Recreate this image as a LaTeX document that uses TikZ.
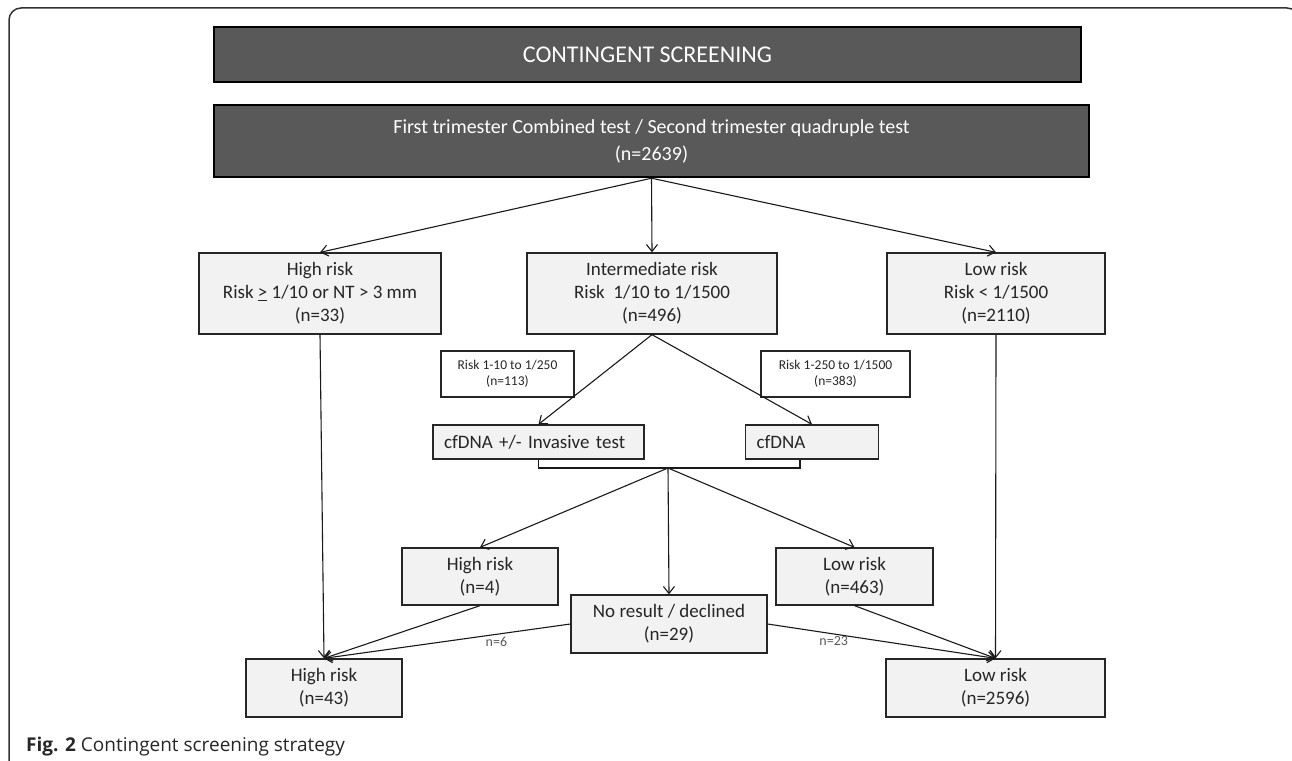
\documentclass[tikz,border=0pt]{standalone}
\usepackage{fontspec}
\setmainfont{Carlito}
\newfontfamily\captionfont{Open Sans}
\usepackage{tikz}
\usetikzlibrary{positioning,arrows.meta}
\definecolor{bannergrey}{HTML}{595959}
\definecolor{boxgrey}{HTML}{F2F2F2}
\definecolor{framegrey}{HTML}{333333}

\begin{document}
\begin{tikzpicture}[x=1pt,y=-1pt,
		banner/.style={draw=black,line width=2.4pt,fill=bannergrey,text=white,inner sep=0pt,align=center},
		riskbox/.style={draw=black!85,line width=1.3pt,fill=boxgrey,inner sep=0pt,align=center,text=black!85,font=\fontsize{19}{23}\selectfont},
		smallbox/.style={draw=black!85,line width=1.3pt,fill=white,inner sep=0pt,align=center,text=black!85,font=\fontsize{13.5}{16}\selectfont},
		testbox/.style={riskbox,text width=#1,align=left},
		flow/.style={-{Straight Barb[length=7pt,width=11pt]},line width=1.1pt,black!90},
		elabel/.style={font=\fontsize{14}{14}\selectfont,text=black!65,inner sep=2pt}]
			\useasboundingbox (0,0) rectangle (1292,760);
			\draw[framegrey,line width=1.5pt,rounded corners=12] (9,775) -- (9,8) -- (1299,8) -- (1299,775);
			\node[banner,minimum width=867,minimum height=55,font=\fontsize{24}{28}\selectfont] (title) at (647.5,54.5) {CONTINGENT SCREENING};
			\node[banner,minimum width=875,minimum height=72,font=\fontsize{20}{27}\selectfont] (test) at (651.5,141) {First trimester Combined test / Second trimester quadruple test\\(n=2639)};
			\node[riskbox,minimum width=242,minimum height=81] (high) at (320,293.5) {High risk\\Risk \underline{>} 1/10 or NT > 3 mm\\(n=33)};
			\node[riskbox,minimum width=250,minimum height=81] (inter) at (652,293.5) {Intermediate risk\\Risk\ \ 1/10 to 1/1500\\(n=496)};
			\node[riskbox,minimum width=218,minimum height=81] (low) at (996,293.5) {Low risk\\Risk < 1/1500\\(n=2110)};
			\node[smallbox,minimum width=133,minimum height=46] (rangea) at (507.5,374) {Risk 1-10 to 1/250\\(n=113)};
			\node[smallbox,minimum width=149,minimum height=46] (rangeb) at (835.5,374) {Risk 1-250 to 1/1500\\(n=383)};
			\node[testbox=189,minimum width=211,minimum height=34] (cfinv) at (538.5,442) {cfDNA +/- Invasive test};
			\node[testbox=111,minimum width=133,minimum height=34] (cf) at (812,442) {cfDNA};
			\coordinate (join) at (668,468);
			\node[riskbox,minimum width=156,minimum height=57] (cfhigh) at (480,576.5) {High risk\\(n=4)};
			\node[riskbox,minimum width=196,minimum height=58] (nores) at (669,624) {No result / declined\\(n=29)};
			\node[riskbox,minimum width=157,minimum height=57] (cflow) at (854.5,576.5) {Low risk\\(n=463)};
			\node[riskbox,minimum width=156,minimum height=58] (allhigh) at (324,688) {High risk\\(n=43)};
			\node[riskbox,minimum width=219,minimum height=58] (alllow) at (995.5,688) {Low risk\\(n=2596)};
			\node[anchor=base west,inner sep=0pt,text=black!85,font=\captionfont\fontsize{19}{22}\selectfont] (caption) at (26,751) {\textbf{Fig. 2} Contingent screening strategy};
			\foreach \b in {high,inter,low} {
				\draw[flow] (test.south) -- (\b.north);
			}
			\draw[flow] (inter.south) -- (cfinv.north);
			\draw[flow] (inter.south) -- (cf.north);
			\draw[line width=1.1pt,black!90] (cfinv.south) |- (join) -| ([xshift=-12pt]cf.south);
			\foreach \b in {cfhigh,nores,cflow} {
				\draw[flow] (join) -- (\b.north);
			}
			\draw[flow] (high.south) -- (allhigh.north);
			\draw[flow] (cfhigh.south) -- (allhigh.north);
			\draw[flow] (nores.west) -- node[elabel,pos=0.3,below] {n=6} (allhigh.north);
			\draw[flow] (low.south) -- (alllow.north);
			\draw[flow] (cflow.south) -- (alllow.north);
			\draw[flow] (nores.east) -- node[elabel,pos=0.29,below] {n=23} (alllow.north);
		\end{tikzpicture}
\end{document}
